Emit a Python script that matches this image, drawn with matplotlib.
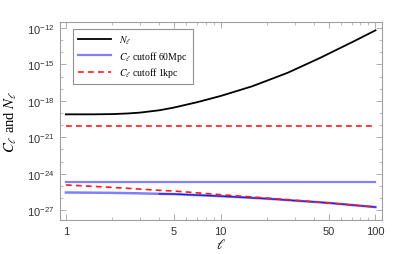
import numpy as np
import matplotlib
matplotlib.use("Agg")
import matplotlib.pyplot as plt
from matplotlib.ticker import FixedLocator, LogLocator, NullFormatter, FixedFormatter

plt.rcParams["font.family"] = ["Liberation Sans", "DejaVu Sans"]
plt.rcParams["mathtext.fontset"] = "stix"

# multipoles and log10 of the spectra
ell = [1, 1.5, 2, 2.5, 3, 4, 5, 7, 10, 16, 27, 44, 72, 100]
log_n_ell = [-19.11, -19.11, -19.09, -19.04, -18.97, -18.78, -18.55, -18.12,
             -17.6, -16.8, -15.7, -14.46, -13.12, -12.2]

ell_c = [1, 2, 3, 4, 5, 10, 20, 50, 100]
log_c60_flat = [-24.71] * len(ell_c)
log_c60_low = [-25.54, -25.57, -25.61, -25.65, -25.67, -25.84, -26.05, -26.4, -26.74]
log_c1k_flat = [-20.07] * len(ell_c)
log_c1k_low = [-24.92, -25.12, -25.26, -25.36, -25.42, -25.72, -26.0, -26.4, -26.74]

x_ticks = [1, 5, 10, 50, 100]
y_ticks = [1e-27, 1e-24, 1e-21, 1e-18, 1e-15, 1e-12]

fig = plt.figure(figsize=(4.16, 2.55), dpi=100)
ax = fig.add_axes([0.144, 0.133, 0.774, 0.777])

ell_c_arr = np.array(ell_c)
ax.plot(ell, 10.0 ** np.array(log_n_ell), color="black", lw=1.3, label=r"$N_\ell$", zorder=5)
ax.plot(ell_c, 10.0 ** np.array(log_c60_flat), color="#8080ff", lw=1.6,
        label=r"$C_\ell$ cutoff 60Mpc")
ax.plot(ell_c, 10.0 ** np.array(log_c60_low), color="#8080ff", lw=1.8)
core = ell_c_arr >= 4
ax.plot(ell_c_arr[core], 10.0 ** np.array(log_c60_low)[core], color="#1a1ae0", lw=0.9)
ax.plot(ell_c, 10.0 ** np.array(log_c1k_flat), color="#ff1a1a", lw=1.2, ls=(0, (3.5, 2.5)),
        label=r"$C_\ell$ cutoff 1kpc")
ax.plot(ell_c, 10.0 ** np.array(log_c1k_low), color="#ff1a1a", lw=1.2, ls=(0, (3.5, 2.5)), zorder=6)

ax.set_xscale("log"); ax.set_yscale("log")
ax.set_xlim(0.915, 110)
ax.set_ylim(10 ** -27.81, 10 ** -11.51)

ax.xaxis.set_major_locator(FixedLocator(x_ticks))
ax.xaxis.set_major_formatter(FixedFormatter([str(t) for t in x_ticks]))
ax.xaxis.set_minor_locator(LogLocator(base=10, subs=(2, 3, 4, 6, 7, 8, 9)))
ax.xaxis.set_minor_formatter(NullFormatter())
ax.yaxis.set_major_locator(FixedLocator(y_ticks))
ax.yaxis.set_minor_locator(FixedLocator([10.0 ** k for k in range(-28, -11) if k % 3 != 0]))
ax.yaxis.set_minor_formatter(NullFormatter())

for sp in ax.spines.values():
    sp.set_color("#a0a0a0"); sp.set_linewidth(0.8)
ax.tick_params(which="both", direction="in", top=True, right=True, color="#a0a0a0",
               labelsize=8, labelcolor="#333333", pad=4)
ax.tick_params(which="major", length=4, width=0.6)
ax.tick_params(which="minor", length=2, width=0.5)

ax.set_xlabel(r"$\ell$", fontsize=10, labelpad=1)
ax.set_ylabel(r"$C_\ell$ and $N_\ell$", fontsize=10.5, family="Liberation Serif", labelpad=6)

lg = ax.legend(loc="upper left", bbox_to_anchor=(0.025, 0.99),
               prop={"family": "Liberation Serif", "size": 7}, fancybox=False,
               edgecolor="#909090", framealpha=1, handlelength=3.4, handletextpad=0.9,
               borderpad=0.5, labelspacing=0.25)
lg.get_frame().set_linewidth(0.8)

fig.savefig("out.png", dpi=100)
